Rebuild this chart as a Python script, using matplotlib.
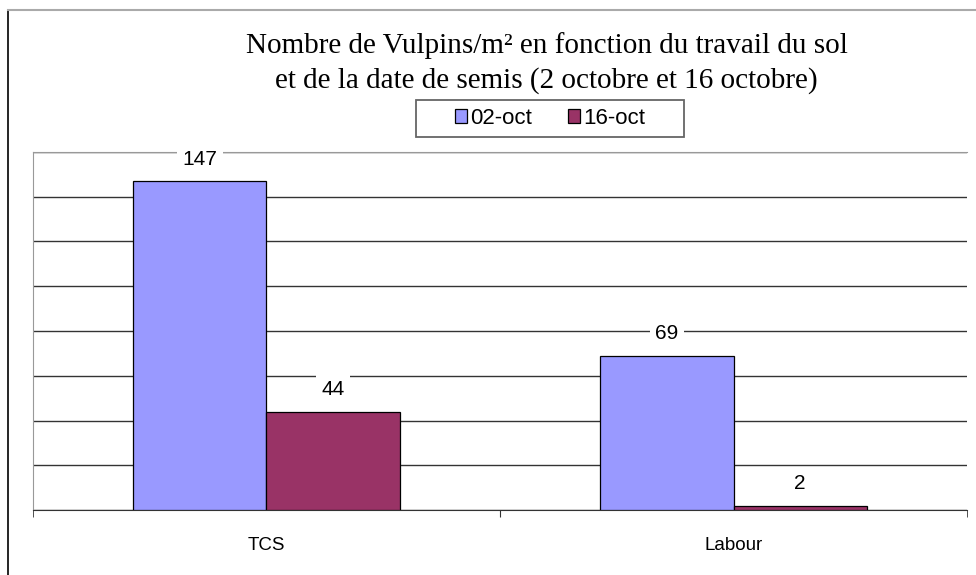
import matplotlib.pyplot as plt
import numpy as np
from matplotlib.lines import Line2D
from matplotlib.patches import Rectangle

categories = ["TCS", "Labour"]
series_names = ["02-oct", "16-oct"]
values_02oct = [147, 69]
values_16oct = [44, 2]
colors = ["#9999FF", "#993366"]


def main():
    fig = plt.figure(figsize=(9.76, 5.75), dpi=100)
    ax = fig.add_axes([0.0338, 0.113, 0.957, 0.6227])

    x = np.arange(len(categories))
    width = 0.285
    bars1 = ax.bar(x - width / 2, values_02oct, width, color=colors[0],
                   edgecolor="black", linewidth=0.9, label=series_names[0], zorder=3)
    bars2 = ax.bar(x + width / 2, values_16oct, width, color=colors[1],
                   edgecolor="black", linewidth=0.9, label=series_names[1], zorder=3)

    for bars in (bars1, bars2):
        for b in bars:
            ax.annotate(str(int(b.get_height())),
                        (b.get_x() + b.get_width() / 2, b.get_height()),
                        xytext=(0, 22), textcoords="offset pixels",
                        ha="center", va="center", fontsize=15,
                        family="Liberation Sans", zorder=4,
                        bbox=dict(facecolor="white", edgecolor="none", pad=4))

    ax.set_xlim(-0.5, 1.5)
    ax.set_ylim(0, 160)
    ax.set_yticks(np.arange(0, 161, 20))
    ax.set_yticklabels([])
    ax.tick_params(axis="y", length=0)
    ax.yaxis.grid(True, color="#333333", linewidth=1.0, zorder=0)

    ax.set_xticks([0.5])
    ax.set_xticklabels([])
    ax.tick_params(axis="x", length=5, color="#333333")
    ax.set_xticks([-0.5, 1.5], minor=True)
    ax.tick_params(axis="x", which="minor", length=5, color="#333333")
    for i, c in enumerate(categories):
        ax.text(i, -0.1, c, transform=ax.get_xaxis_transform(), ha="center",
                va="center", fontsize=13.5, family="Liberation Sans")

    ax.spines["right"].set_visible(False)
    ax.spines["top"].set_color("#999999")
    ax.spines["left"].set_color("#999999")
    ax.spines["bottom"].set_color("#333333")

    fig.text(0.56, 0.921, "Nombre de Vulpins/m² en fonction du travail du sol",
             ha="center", va="center", fontsize=21, family="Liberation Serif")
    fig.text(0.56, 0.860, "et de la date de semis (2 octobre et 16 octobre)",
             ha="center", va="center", fontsize=21, family="Liberation Serif")

    # legend box drawn separately so its padding matches the reference
    fig.add_artist(Rectangle((416 / 976, 1 - 137 / 575), 268 / 976, 37 / 575,
                             transform=fig.transFigure, facecolor="white",
                             edgecolor="#666666", linewidth=1.3))
    fig.legend(handles=[bars1, bars2], labels=series_names, loc="center",
               bbox_to_anchor=(0.5635, 0.794), ncol=2, frameon=False,
               prop={"family": "Liberation Sans", "size": 16},
               handlelength=0.55, handleheight=0.55, handletextpad=0.15,
               columnspacing=1.6, borderpad=0.3)

    fig.add_artist(Line2D([8 / 976, 8 / 976], [0, 1 - 10 / 575],
                          transform=fig.transFigure, color="black", linewidth=1.2))
    fig.add_artist(Line2D([8 / 976, 1], [1 - 10 / 575, 1 - 10 / 575],
                          transform=fig.transFigure, color="#aaaaaa", linewidth=1.5))

    fig.savefig("out.png", dpi=100)


if __name__ == "__main__":
    main()
